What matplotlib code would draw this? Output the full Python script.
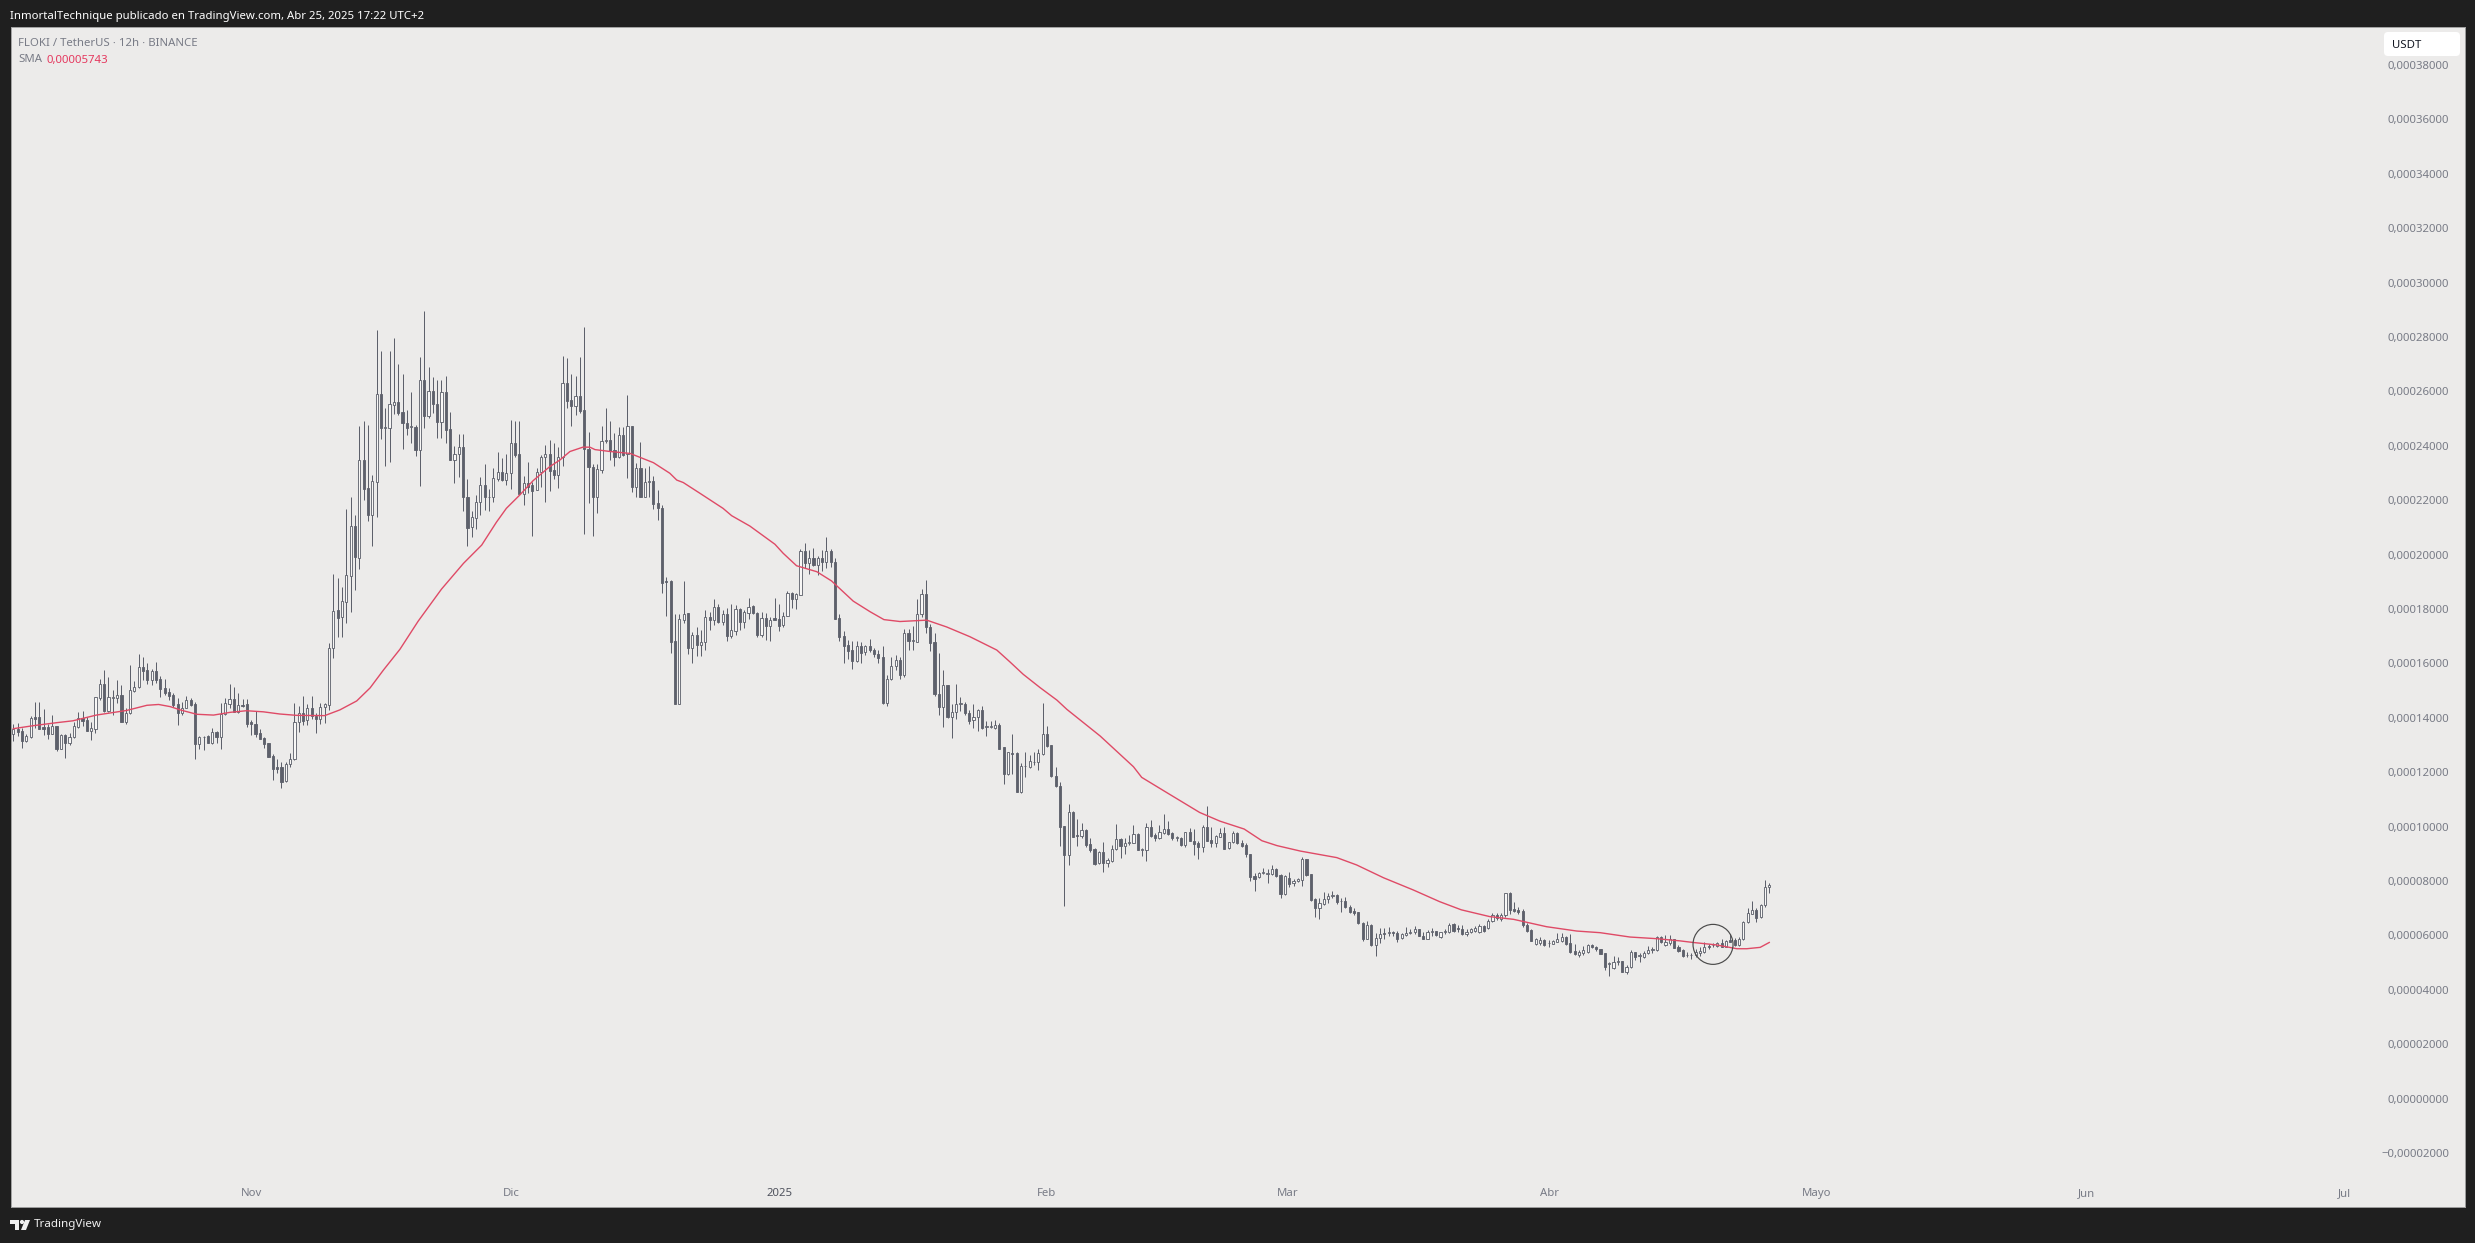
import numpy as np
import matplotlib
matplotlib.use("Agg")
import matplotlib.pyplot as plt
from matplotlib.patches import Ellipse, FancyBboxPatch, Polygon, Circle
from matplotlib.transforms import IdentityTransform

# All prices are in units of 0.00001 USDT; one candle per 12h
highs = [
13.77,13.80,13.61,13.39,14.08,14.57,14.59,14.31,13.77,14.09,
13.71,13.39,13.39,13.43,13.86,14.20,14.25,14.04,13.86,14.78,
15.43,15.74,15.49,15.02,15.39,15.20,14.35,15.94,15.35,16.33,
16.22,16.00,15.78,16.04,15.54,15.43,15.11,14.90,14.71,14.59,
14.80,14.71,14.59,13.33,13.34,13.37,13.61,13.53,14.53,14.71,
15.23,15.12,14.90,14.70,14.68,13.92,14.26,13.58,13.31,13.09,
12.66,12.47,12.36,12.36,12.72,14.53,14.43,14.80,14.51,14.80,
14.16,14.53,14.56,16.74,19.29,19.13,18.82,21.68,22.11,21.46,
24.73,24.91,24.75,22.93,28.26,27.49,25.38,27.49,27.95,27.01,
26.64,25.32,25.98,24.77,27.25,28.96,26.89,26.52,26.42,26.42,
26.57,25.24,23.99,24.42,24.42,22.77,21.62,22.19,22.87,23.33,
22.40,23.17,23.76,23.54,23.70,24.95,24.91,24.91,22.89,23.42,
22.68,23.20,23.66,24.03,24.22,24.09,23.95,27.30,27.22,26.64,
26.57,27.25,28.36,24.50,23.33,23.33,24.73,25.38,24.91,24.46,
24.70,24.70,25.87,24.73,23.36,24.13,23.17,23.26,22.89,22.38,
21.82,19.18,19.08,17.80,17.83,19.02,17.87,17.16,17.32,17.22,
17.98,17.89,18.38,18.20,17.98,18.05,18.20,18.14,18.05,17.98,
18.42,18.14,17.89,17.89,17.87,17.71,18.42,18.20,17.89,18.67,
18.64,18.59,20.22,20.41,20.16,20.26,19.94,20.16,20.63,20.19,
19.86,17.83,17.18,16.85,16.82,16.82,16.79,16.67,16.88,16.56,
16.49,16.63,15.57,16.22,16.30,16.24,17.28,17.28,17.37,18.36,
18.72,19.08,17.44,17.13,16.40,15.75,15.20,14.52,15.24,14.77,
14.59,14.28,14.49,14.34,14.43,13.89,13.89,13.91,13.81,12.93,
12.75,13.42,12.75,12.32,12.75,12.62,12.75,12.87,14.55,13.70,
13.00,12.18,11.63,10.01,10.82,10.57,10.28,10.12,9.90,9.57,
9.20,9.10,9.44,8.83,9.32,10.09,9.57,9.57,9.69,10.06,
9.75,9.22,10.12,10.24,9.77,10.06,10.46,10.20,9.79,9.65,
9.60,9.81,9.96,9.93,9.48,10.06,10.75,9.99,9.69,9.96,
9.99,9.44,9.85,9.81,9.50,9.38,8.99,8.28,8.34,8.46,
8.43,8.59,8.46,8.25,8.22,8.32,8.06,8.10,8.90,8.80,
8.26,7.37,7.39,7.61,7.55,7.63,7.52,7.37,7.40,7.12,
7.00,6.86,6.48,6.52,6.42,6.08,6.26,6.26,6.30,6.18,
6.18,6.08,6.30,6.23,6.35,6.25,6.14,6.20,6.27,6.18,
6.14,6.23,6.45,6.45,6.38,6.38,6.23,6.29,6.35,6.41,
6.38,6.59,6.84,6.81,6.84,7.57,7.59,7.24,7.06,6.96,
6.47,6.23,5.92,5.93,5.86,5.82,5.83,6.08,6.08,5.96,
6.05,5.69,5.47,5.61,5.69,5.69,5.61,5.51,5.37,5.02,
5.26,5.20,5.07,4.91,5.47,5.40,5.34,5.44,5.61,5.59,
5.98,5.98,6.02,6.02,5.87,5.65,5.50,5.40,5.37,5.49,
5.56,5.77,5.68,5.71,5.76,5.88,5.83,6.05,5.89,5.93,
6.52,6.99,7.26,6.99,7.14,8.04,7.94]

lows = [
13.16,13.33,12.88,13.10,13.27,13.61,13.60,13.37,13.21,13.40,
12.79,12.84,12.53,13.00,13.26,13.64,13.70,13.53,13.18,13.45,
14.65,14.20,14.20,14.10,14.56,13.83,13.77,14.14,14.96,15.09,
15.39,15.23,15.20,15.27,14.78,14.84,14.65,14.38,13.73,14.10,
14.37,14.43,12.50,12.84,12.82,13.06,13.04,13.06,12.85,14.10,
14.35,14.20,14.19,14.38,13.65,13.37,13.28,13.21,12.90,12.55,
11.71,11.98,11.43,11.65,12.20,12.45,13.49,13.73,13.73,13.94,
13.45,13.77,13.82,14.29,16.19,16.98,16.98,17.47,17.90,18.70,
19.48,22.01,21.25,20.32,21.40,24.25,23.24,23.42,25.17,25.13,
23.88,24.40,24.09,23.64,22.54,24.67,25.04,25.20,24.30,24.30,
24.12,23.46,22.65,22.87,21.62,20.33,20.66,20.93,21.46,21.64,
21.62,21.95,22.72,22.72,22.56,22.41,23.58,22.22,21.83,22.25,
20.70,22.38,22.50,21.92,22.32,22.77,22.46,23.24,25.38,24.74,
25.13,25.20,20.75,21.91,20.70,21.52,23.01,24.12,23.46,23.27,
23.54,23.64,22.83,22.29,22.13,22.10,22.13,22.13,21.69,21.27,
18.59,17.75,16.40,14.49,14.49,17.49,16.34,16.02,16.28,16.28,
16.49,17.22,17.40,17.50,17.40,16.83,16.95,17.04,17.22,17.31,
17.65,17.81,16.98,16.98,16.85,16.82,17.59,17.20,17.32,17.74,
18.02,17.99,18.51,19.49,19.28,19.57,19.24,19.40,19.51,19.55,
17.64,16.83,16.00,16.18,15.79,16.06,16.00,16.30,16.42,16.22,
16.03,14.52,14.43,15.38,15.75,15.44,15.50,16.49,16.49,16.79,
17.71,17.13,16.46,14.81,14.10,13.67,14.01,13.24,13.97,14.24,
14.10,13.79,13.61,13.52,13.59,13.32,13.61,13.58,12.85,11.56,
11.89,11.95,11.28,11.22,11.83,12.16,12.26,12.07,12.63,12.94,
11.83,11.44,9.28,7.08,8.59,9.60,9.28,9.57,9.26,9.05,
8.59,8.62,8.34,8.50,8.71,9.14,8.85,8.99,9.32,9.38,
9.14,8.92,8.73,9.63,9.48,9.53,9.71,9.69,9.50,9.48,
9.28,9.26,9.47,8.95,8.81,9.05,9.47,9.24,9.26,9.60,
9.17,9.16,9.38,9.36,9.24,8.87,8.01,7.64,8.10,8.25,
7.94,8.22,8.16,7.38,7.48,7.79,7.81,7.95,7.83,8.19,
7.28,6.69,6.59,7.12,7.18,7.39,7.16,6.85,7.00,6.81,
6.75,6.42,5.81,5.86,5.61,5.26,5.71,5.86,5.96,5.96,
5.77,5.86,5.98,6.05,6.05,5.96,5.86,5.86,5.98,5.98,
5.89,6.05,6.08,6.14,6.14,6.02,5.99,6.08,6.13,6.10,
6.14,6.22,6.51,6.57,6.54,6.69,6.79,6.87,6.79,6.32,
6.14,5.78,5.64,5.66,5.62,5.56,5.67,5.75,5.77,5.65,
5.37,5.28,5.22,5.28,5.37,5.55,5.44,5.31,4.71,4.52,
4.75,4.91,4.64,4.58,4.79,5.10,5.04,5.16,5.32,5.37,
5.44,5.71,5.61,5.65,5.53,5.40,5.22,5.19,5.13,5.22,
5.24,5.34,5.50,5.59,5.59,5.56,5.56,5.74,5.61,5.62,
5.83,6.44,6.77,6.51,6.63,7.03,7.55]

body_top = [
13.57,13.59,13.51,13.33,13.98,14.03,14.03,13.66,13.66,13.69,
13.70,13.37,13.37,13.28,13.70,13.98,13.99,13.92,13.61,14.75,
15.23,15.23,14.75,14.75,14.83,14.83,14.16,15.02,15.14,15.85,
15.85,15.76,15.73,15.72,15.43,15.08,14.94,14.84,14.51,14.37,
14.65,14.65,14.51,13.29,13.31,13.33,13.46,13.48,14.14,14.53,
14.68,14.68,14.46,14.47,14.49,13.83,13.76,13.43,13.26,13.06,
12.60,12.18,12.18,12.29,12.47,13.83,14.19,14.19,14.35,14.35,
14.08,14.38,14.49,16.55,17.94,17.97,18.30,19.25,21.05,21.05,
23.48,23.48,22.44,22.71,25.91,25.91,24.69,25.53,25.60,25.60,
25.24,24.83,24.71,24.69,26.42,26.42,26.00,26.00,25.54,25.97,
25.97,24.61,23.70,23.95,23.95,22.11,21.37,21.92,22.55,22.55,
22.12,22.81,23.03,23.03,23.00,24.09,24.09,23.70,22.62,22.62,
22.56,23.03,23.60,23.70,23.70,23.10,23.57,26.30,26.30,25.67,
25.82,25.82,25.32,23.89,23.22,23.14,24.17,24.20,24.22,23.84,
24.39,24.39,24.73,24.73,23.17,23.17,22.67,22.70,22.70,21.89,
21.73,19.02,19.02,16.82,17.62,17.83,17.85,17.06,17.06,16.77,
17.72,17.72,18.07,18.07,17.80,17.80,17.22,17.99,17.99,17.88,
18.08,18.10,17.87,17.66,17.66,17.61,17.66,17.65,17.75,18.58,
18.58,18.54,20.12,20.12,19.89,19.89,19.86,19.86,20.12,20.12,
19.72,17.66,17.00,16.67,16.49,16.64,16.63,16.64,16.63,16.51,
16.36,16.22,15.41,15.90,16.12,16.12,17.13,17.13,16.85,17.83,
18.54,18.54,17.32,16.77,14.89,15.19,15.19,14.22,14.52,14.54,
14.51,14.16,14.03,14.28,14.28,13.69,13.69,13.72,13.72,12.93,
12.74,12.72,12.71,12.23,12.24,12.40,12.38,12.69,13.39,13.39,
12.99,11.87,11.51,10.01,10.52,10.52,9.69,9.86,9.86,9.35,
9.16,9.08,9.05,8.77,9.16,9.53,9.54,9.39,9.42,9.71,
9.73,9.17,9.97,9.97,9.69,9.79,9.93,9.93,9.75,9.60,
9.59,9.79,9.79,9.48,9.38,9.98,9.98,9.50,9.65,9.76,
9.76,9.42,9.75,9.76,9.38,9.32,8.99,8.18,8.29,8.32,
8.28,8.44,8.44,8.23,8.17,8.12,7.99,8.06,8.80,8.80,
8.26,7.33,7.18,7.33,7.45,7.49,7.49,7.28,7.25,7.06,
6.91,6.85,6.46,6.37,6.38,5.89,6.04,6.08,6.11,6.11,
6.10,6.04,6.10,6.13,6.23,6.23,5.98,6.13,6.15,6.15,
6.11,6.18,6.40,6.41,6.29,6.25,6.13,6.25,6.27,6.36,
6.36,6.54,6.75,6.75,6.75,7.55,7.56,6.96,6.94,6.90,
6.38,6.20,5.86,5.83,5.83,5.73,5.80,5.88,5.93,5.93,
5.71,5.42,5.40,5.47,5.65,5.65,5.58,5.49,5.34,4.97,
5.01,5.05,5.05,4.83,5.38,5.38,5.28,5.34,5.47,5.50,
5.93,5.93,5.75,5.87,5.86,5.59,5.46,5.29,5.29,5.38,
5.44,5.56,5.62,5.66,5.73,5.73,5.79,5.83,5.83,5.87,
6.49,6.81,6.92,6.93,7.12,7.77,7.85]

body_bottom = [
13.39,13.49,13.16,13.16,13.28,13.97,13.60,13.60,13.40,13.42,
12.85,12.85,13.09,13.09,13.28,13.66,13.89,13.53,13.53,13.60,
14.73,14.25,14.25,14.74,14.74,13.86,13.86,14.16,15.00,15.14,
15.73,15.39,15.39,15.39,15.07,14.91,14.80,14.47,14.19,14.19,
14.37,14.47,13.04,13.04,13.29,13.09,13.09,13.28,13.28,14.14,
14.52,14.22,14.22,14.45,13.77,13.77,13.40,13.23,13.05,12.57,
12.13,12.13,11.64,11.66,12.29,12.47,13.84,13.89,13.92,14.07,
13.97,13.97,14.38,14.47,16.56,17.66,17.70,18.27,19.23,19.90,
19.89,22.41,21.46,21.47,22.68,24.67,24.66,24.64,25.51,25.22,
24.83,24.67,24.68,23.85,23.86,25.11,25.11,25.53,24.87,24.87,
24.58,23.46,23.46,23.69,22.11,20.99,21.00,21.36,21.92,22.10,
22.10,22.10,22.78,22.76,22.76,22.99,23.68,22.24,22.24,22.50,
22.35,22.38,23.03,23.58,23.09,22.93,22.93,23.57,25.66,25.48,
25.46,25.29,23.87,23.21,22.13,22.13,23.11,24.18,23.80,23.60,
23.60,23.68,23.70,22.50,22.50,22.12,22.13,22.68,21.87,21.71,
18.96,19.00,16.79,14.49,14.49,17.61,16.57,16.57,16.68,16.68,
16.77,17.58,17.58,17.53,17.53,17.00,17.00,17.20,17.53,17.51,
17.86,17.86,17.04,17.04,17.38,17.38,17.61,17.37,17.40,17.74,
18.35,18.35,18.52,19.68,19.68,19.61,19.62,19.73,19.73,19.71,
17.64,16.98,16.64,16.46,16.09,16.09,16.40,16.41,16.49,16.36,
16.20,14.55,14.55,15.41,15.90,15.57,15.57,16.83,16.83,16.80,
17.81,17.32,16.75,14.87,14.40,14.40,14.03,14.03,14.22,14.51,
14.16,13.89,13.91,14.03,13.62,13.67,13.67,13.62,12.87,11.93,
11.93,12.67,11.28,11.28,12.22,12.20,12.36,12.38,12.67,12.97,
11.86,11.49,9.99,8.97,8.97,9.63,9.65,9.65,9.32,9.14,
8.62,8.65,8.67,8.67,8.74,9.16,9.30,9.30,9.39,9.41,
9.15,9.15,9.14,9.66,9.59,9.59,9.77,9.73,9.57,9.58,
9.32,9.32,9.48,9.36,9.24,9.24,9.48,9.38,9.38,9.63,
9.19,9.22,9.42,9.38,9.30,8.98,8.16,8.08,8.13,8.29,
8.25,8.25,8.19,7.52,7.52,7.89,7.91,7.99,8.04,8.22,
7.30,7.02,7.02,7.17,7.33,7.46,7.21,7.25,7.03,6.85,
6.84,6.45,5.86,5.88,5.65,5.66,5.89,6.04,6.09,6.07,
5.87,5.89,6.03,6.10,6.11,5.97,5.88,5.88,6.13,6.00,
5.93,6.13,6.13,6.18,6.23,6.04,6.04,6.13,6.15,6.13,
6.16,6.26,6.53,6.63,6.59,6.74,6.94,6.91,6.85,6.38,
6.18,5.81,5.69,5.71,5.66,5.71,5.70,5.77,5.81,5.69,
5.39,5.32,5.29,5.37,5.39,5.58,5.49,5.33,4.82,4.95,
4.79,5.02,4.67,4.64,4.82,5.20,5.26,5.20,5.34,5.47,
5.48,5.74,5.65,5.71,5.55,5.44,5.26,5.27,5.27,5.28,
5.36,5.38,5.56,5.63,5.62,5.59,5.59,5.77,5.66,5.65,
5.86,6.48,6.80,6.65,6.66,7.11,7.77]

# u = rising candle (hollow), d = falling candle (filled)
direction = """
u d d u u d d d d u  d u d u u u d d u u  u d u u u d u u u u  d d u d d d d d d u
u d d u u d u d u u  u d u d d d d d d d  d d d u u u u d u d  d u u u u d u u u d
u d d u u d u u u d  d d u d u d u d d u  d d u u d d u u u d  d u u d u u d d u d
d u u u d d u u d d  u d d d d u u u d d  u d u d u d u u d d  d d d d u u d u d u
u d u d u d u u d u  u d d u d u d d u u  d u u d u d u d u d  d d d d d u d u d d
d d u u u d u d u u  u d d d d u d u u u  d d u u d u u u d d  u d d u u u u u u d
d d d d u d d u d d  d u d u u u d u u u  d u u d d u u d d u  d u d d d u d d u u
d u u d d d d d u u  u u d d u d u u u d  d d u u u u d u d d  d d d u d u u d u d
d u u u u d d u u d  u u u d d d u u u u  d u u d u u d d d d  d d u u d u u u u d
d d u u u d d d d u  u u d u u d u u u u  u d u u d d d u u u  u u d u u d u d d u
u u u d u u u
""".split()

# SMA line vertices: candle position and value
sma_pos = [0,4.6,10,13.8,19.2,26.2,30.9,33.6,36.3,38.6,42.4,46.3,50.1,53.9,57.8,61.6,65.5,72,75.5,79.4,82.5,85.6,89.4,93.6,
 99,104.1,108.3,111.7,114,117.1,120.2,124,126.4,128.7,131.7,133.3,134.5,138,142.6,148,151.8,153.4,154.9,158.8,
 164.1,166.1,170.3,176.1,178,181.1,185.8,189.2,194.2,198.1,201.3,205,211.2,215.8,221.2,227.4,230.4,233.5,237.4,
 241.3,243.6,251.3,259,260.9,266.7,274.3,279,284.6,288.7,292.2,297.6,
 306,310.6,316.8,323.7,329.8,334.8,341.4,346.9,354.5,361.5,366.9,373.8,379.9,385.3,388.4,393.8,398.5,400.8,403.9,406]
sma_val = [13.60,13.71,13.82,13.89,14.10,14.27,14.46,14.49,14.41,14.29,14.13,14.10,14.20,14.26,14.22,14.14,14.09,14.08,14.29,14.62,15.10,15.76,16.52,17.55,
 18.73,19.68,20.35,21.19,21.70,22.19,22.72,23.23,23.48,23.79,23.95,23.95,23.86,23.79,23.72,23.38,22.99,22.74,22.65,22.25,
 21.70,21.43,21.05,20.38,20.05,19.59,19.37,19.03,18.29,17.90,17.61,17.54,17.59,17.34,16.98,16.49,16.06,15.60,15.11,
 14.65,14.31,13.33,12.20,11.81,11.25,10.52,10.20,9.91,9.48,9.30,9.10,
 8.86,8.59,8.12,7.67,7.24,6.94,6.69,6.59,6.32,6.16,6.10,5.94,5.88,5.80,5.74,5.65,5.51,5.51,5.56,5.74]

y_tick_values = list(range(-2, 40, 2))
y_tick_labels = ["\u22120,00002000" if v < 0 else f"0,{v * 1000:08d}" for v in y_tick_values]
x_tick_pos = [55, 115.1, 177.1, 239, 294.7, 355.2, 417, 479.3, 539]
x_tick_labels = ["Nov", "Dic", "2025", "Feb", "Mar", "Abr", "Mayo", "Jun", "Jul"]

BG = "#1f1f1f"; PANEL = "#ecebea"; CANDLE = "#5d606b"; GREY = "#787b86"; RED = "#df4a66"
FONT = ["Noto Sans", "DejaVu Sans"]
plt.rcParams["font.family"] = FONT

W, H = 2475, 1243
fig = plt.figure(figsize=(W / 100, H / 100), dpi=100, facecolor=BG)
L, R, T, B = 10.5, 2465, 27, 1207
ax = fig.add_axes([L / W, 1 - B / H, (R - L) / W, (B - T) / H], facecolor=PANEL)

assert len(highs) == len(lows) == len(body_top) == len(body_bottom) == len(direction)
pos = np.arange(len(highs))
hi, lo, top, bot = map(np.array, (highs, lows, body_top, body_bottom))
rising = np.array([c == "u" for c in direction])

ax.vlines(pos, lo, hi, color=CANDLE, lw=0.72, zorder=2)
ax.bar(pos, top - bot, bottom=bot, width=0.5,
       color=[("#f8f7f6" if r else CANDLE) for r in rising],
       edgecolor=CANDLE, linewidth=0.62, zorder=3)
ax.plot(sma_pos, sma_val, color=RED, lw=1.0, zorder=4, solid_joinstyle="round")

# hand-drawn circle annotation
ax.add_patch(Ellipse((393, 5.67), 9.25, 1.47, fill=False, edgecolor="#4a4a4a", lw=0.85, zorder=5))

px_x = 4.325; px_y = 27.2
ax.set_xlim((L - 13.3) / px_x, (R - 13.3) / px_x)
ax.set_ylim((1098.6 - B) / px_y, (1098.6 - T) / px_y)

ax.yaxis.tick_right()
ax.set_yticks(y_tick_values)
ax.set_yticklabels(y_tick_labels, ha="right", color=GREY, fontsize=8.2)
ax.tick_params(axis="y", length=0, pad=-11.5)
ax.set_xticks(x_tick_pos)
ax.set_xticklabels(x_tick_labels, color=GREY, fontsize=8.2)
ax.tick_params(axis="x", length=0, pad=-13.7)
lab = ax.get_xticklabels()[2]
lab.set_fontweight("bold"); lab.set_color("#50535e")
for s in ax.spines.values():
    s.set_color("#a0a0a0"); s.set_linewidth(0.7)

# USDT box
ident = IdentityTransform()
ax.add_patch(FancyBboxPatch((2384, H - 56), 76, 24, boxstyle="round,pad=0,rounding_size=4",
                            facecolor="white", edgecolor="none", transform=ident, zorder=10, clip_on=False))
def t(x, y, s, **kw):
    fig.text(x / W, 1 - y / H, s, va="center", **kw)
ax.text(2392, H - 45, "USDT", transform=ident, color="#131722", fontsize=8.2, va="center", zorder=11)

t(10, 16, "InmortalTechnique publicado en TradingView.com, Abr 25, 2025 17:22 UTC+2", color="#ffffff", fontsize=8.2)
t(18, 43, "FLOKI / TetherUS \u00b7 12h \u00b7 BINANCE", color=GREY, fontsize=8.2)
t(18, 60, "SMA", color=GREY, fontsize=8.2)
t(46, 60, "0,00005743", color="#e5395f", fontsize=8.2)
t(33.5, 1225, "TradingView", color="#f0f0f0", fontsize=8.4)

# TradingView logo
def px(points):
    return [(a, H - b) for a, b in points]
logo = "#f0f0f0"
for art in (
    Polygon(px([(10, 1220), (19, 1220), (19, 1230), (14.5, 1230), (14.5, 1224), (10, 1224)]),
            closed=True, facecolor=logo, edgecolor="none", transform=ident),
    Circle((22, H - 1222), 2.1, facecolor=logo, edgecolor="none", transform=ident),
    Polygon(px([(25, 1220), (30, 1220), (26, 1230), (21, 1230)]),
            closed=True, facecolor=logo, edgecolor="none", transform=ident),
):
    fig.add_artist(art)
    art.set_transform(ident)

fig.savefig("out.png", dpi=100, facecolor=BG)
